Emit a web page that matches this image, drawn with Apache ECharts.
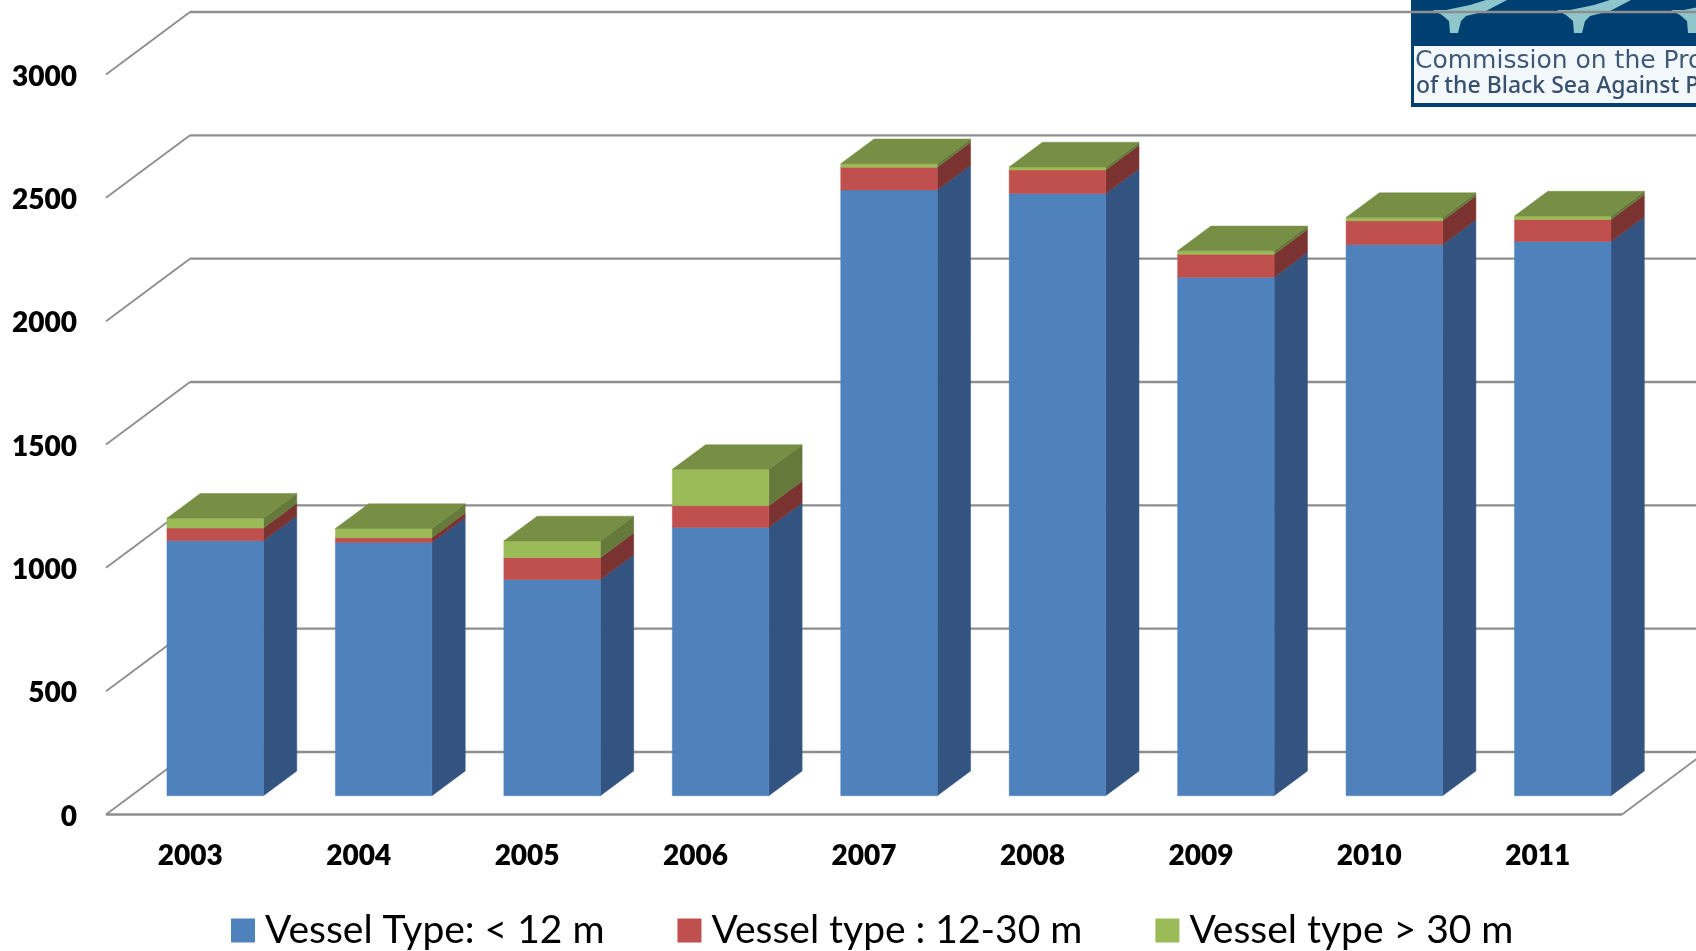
<!DOCTYPE html>
<html>
<head>
<meta charset="utf-8">
<style>html,body{margin:0;padding:0;background:#fff}#c{width:1696px;height:951px}</style>
<script src="https://cdn.jsdelivr.net/npm/echarts@6/dist/echarts.min.js"></script>
</head>
<body>
<div id="c"></div>
<script>
var years = ['2003','2004','2005','2006','2007','2008','2009','2010','2011'];
var under12 = [1034,1027,876,1087,2456,2441,2102,2234,2247];
var from12to30 = [51,19,89,88,92,96,93,97,89];
var over30 = [40,37,68,148,14,12,14,13,14];
var ticks = [0,500,1000,1500,2000,2500,3000];
var names = ['Vessel Type: < 12 m','Vessel type : 12-30 m','Vessel type > 30 m'];

var FLOOR_DX = 84, FLOOR_DY = -62.5;      // depth of the floor
var BAR_OFF_X = 25, BAR_OFF_Y = -18.8;    // bar position inside the floor
var BAR_W = 96.5, BAR_DX = 33.3, BAR_DY = -24.7;
var FRONT = ['#4F81BD','#C0504D','#9BBB59'];
var SIDE  = ['#335480','#7B3331','#657A3A'];
var TOP   = ['#3E6797','#9A403E','#778E45'];
var GRID  = '#8E8E8E';

function poly(pts, color){
  return {type:'polygon', shape:{points:pts}, style:{fill:color, stroke:color, lineWidth:0.5}};
}
function barRenderer(k, isTop){
  return function(params, api){
    var i = api.value(0);
    var a = api.coord([i, api.value(1)]);
    var b = api.coord([i, api.value(2)]);
    var x0 = a[0] + BAR_OFF_X - BAR_W/2, x1 = x0 + BAR_W;
    var y0 = a[1] + BAR_OFF_Y, y1 = b[1] + BAR_OFF_Y;
    var kids = [
      poly([[x1,y0],[x1+BAR_DX,y0+BAR_DY],[x1+BAR_DX,y1+BAR_DY],[x1,y1]], SIDE[k]),
      poly([[x0,y0],[x1,y0],[x1,y1],[x0,y1]], FRONT[k])
    ];
    if(isTop){
      kids.push(poly([[x0,y1],[x1,y1],[x1+BAR_DX,y1+BAR_DY],[x0+BAR_DX,y1+BAR_DY]], TOP[k]));
    }
    return {type:'group', children:kids};
  };
}
function gridRenderer(params, api){
  var v = api.value(0);
  var left = api.coord([0, v]);
  var lx = params.coordSys.x, rx = lx + params.coordSys.width;
  var y = left[1];
  var kids = [
    {type:'line', shape:{x1:lx,y1:y,x2:lx+FLOOR_DX,y2:y+FLOOR_DY}, style:{stroke:GRID,lineWidth:1.8}},
    {type:'line', shape:{x1:lx+FLOOR_DX,y1:y+FLOOR_DY,x2:rx+FLOOR_DX,y2:y+FLOOR_DY}, style:{stroke:GRID,lineWidth:2.4}}
  ];
  if(v === 0){
    kids.push({type:'line', shape:{x1:lx,y1:y,x2:rx,y2:y}, style:{stroke:GRID,lineWidth:2.4}});
    kids.push({type:'line', shape:{x1:rx,y1:y,x2:rx+FLOOR_DX,y2:y+FLOOR_DY}, style:{stroke:GRID,lineWidth:1.8}});
  }
  return {type:'group', children:kids};
}

var stacks = [under12, from12to30, over30];
var base = years.map(function(){return 0;});
var barSeries = stacks.map(function(vals, k){
  var data = vals.map(function(v, i){
    var row = [i, base[i], base[i] + v];
    base[i] += v;
    return row;
  });
  return {
    type:'custom', name:names[k], coordinateSystem:'cartesian2d', z:5 + k,
    renderItem:barRenderer(k, k === stacks.length - 1),
    encode:{x:0, y:[1,2]}, itemStyle:{color:FRONT[k]}, data:data, silent:true
  };
});

// logo, partly outside the picture on the right
var logo = [
  {type:'rect', shape:{x:1411,y:0,width:285,height:107}, style:{fill:'#003F72'}, z:0},
  {type:'rect', shape:{x:1414,y:46,width:282,height:57}, style:{fill:'#F3F8FC'}, z:0},
  {type:'text', x:1415, y:61, style:{text:'Commission on the Pro', font:'25px "DejaVu Sans"', fill:'#3F5A78', verticalAlign:'middle'}, z:0},
  {type:'text', x:1416, y:86, style:{text:'of the Black Sea Against P', font:'500 23px "Noto Sans"', fill:'#36506E', verticalAlign:'middle'}, z:0}
];
[0,124,238].forEach(function(off){
  logo.push({type:'polygon', z:0, style:{fill:'#8FC6CC'}, shape:{points:[
    [1433+off,10],[1446+off,10],[1470+off,5],[1486+off,0],[1507+off,0],[1486+off,11],[1466+off,16],[1461+off,21],[1458+off,33],[1450+off,33],[1449+off,21],[1442+off,15]
  ]}});
});

var chart = echarts.init(document.getElementById('c'), null, {renderer:'canvas'});
chart.setOption({
  animation:false,
  backgroundColor:'#fff',
  graphic:{elements:logo},
  grid:{left:106, right:74, top:74.5, bottom:136.5, containLabel:false},
  legend:{
    data:names, left:226, top:906, selectedMode:false, icon:'rect',
    itemWidth:24, itemHeight:24, itemGap:73,
    textStyle:{fontFamily:'Lato', fontSize:39, color:'#000', padding:[0,0,0,5]}
  },
  xAxis:{
    type:'category', data:years,
    axisLine:{show:false}, axisTick:{show:false}, splitLine:{show:false},
    axisLabel:{fontFamily:'Lato', fontWeight:800, fontSize:28, color:'#000', margin:27}
  },
  yAxis:{
    type:'value', min:0, max:3000, interval:500,
    axisLine:{show:false}, axisTick:{show:false}, splitLine:{show:false},
    axisLabel:{margin:29, formatter:function(v){return '{t|' + v + '}';},
      rich:{t:{fontFamily:'Lato', fontWeight:800, fontSize:28, color:'#000', padding:[4,0,0,0]}}}
  },
  series:[{
    type:'custom', coordinateSystem:'cartesian2d', z:2, silent:true,
    renderItem:gridRenderer, encode:{y:0},
    data:ticks.map(function(t){return [t];})
  }].concat(barSeries)
});
</script>
</body>
</html>
